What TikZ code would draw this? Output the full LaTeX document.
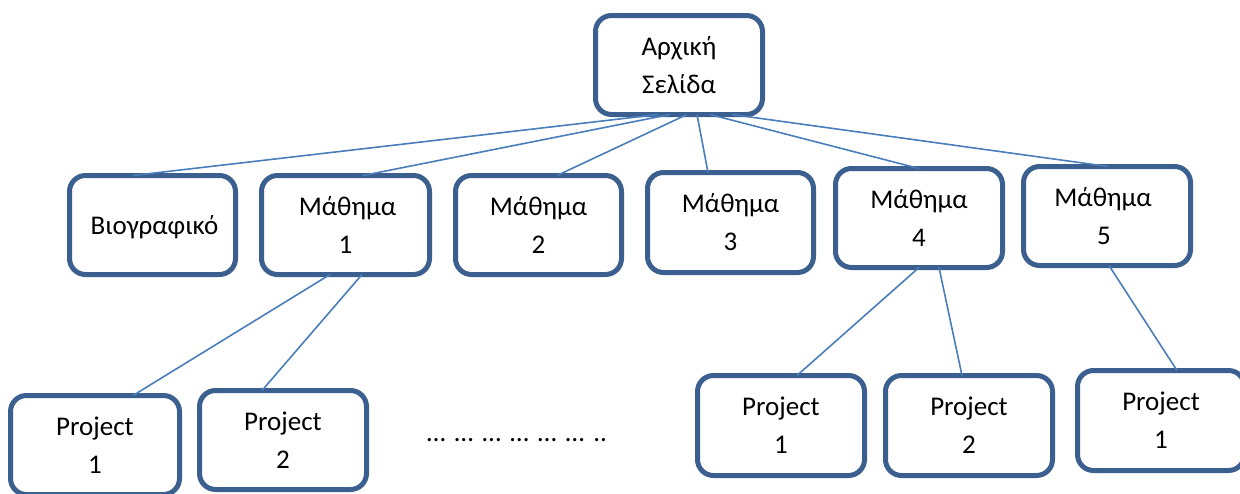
\documentclass[tikz,border=0pt]{standalone}
\usepackage{fontspec}
\setmainfont{Carlito}
\definecolor{boxblue}{HTML}{3B5F8E}
\definecolor{linkblue}{HTML}{4A7EBB}
\begin{document}
\begin{tikzpicture}[x=1pt,y=-1pt,
  box/.style={draw=boxblue, line width=5pt, rounded corners=16pt, fill=white,
    align=center, inner sep=0pt, outer sep=0pt,
    font=\fontsize{27}{38}\selectfont},
  sz/.style 2 args={minimum width=#1pt, minimum height=#2pt},
  link/.style={draw=linkblue, line width=1.6pt}]
\useasboundingbox (0,0) rectangle (1240,493);
\clip (0,0) rectangle (1240,493);

\node[box, sz={167}{99}] (top) at (679,65) {Αρχική\\Σελίδα};
\node[box, sz={166}{99}, text depth=0pt] (bio) at (152.5,225) {\hspace*{4pt}Βιογραφικό};
\node[box, sz={168}{99}] (m1) at (345.5,225) {\hspace*{4pt}Μάθημα\\1};
\node[box, sz={166}{99}] (m2) at (538.5,225) {Μάθημα\\2};
\node[box, sz={166}{100}] (m3) at (730.5,222.5) {Μάθημα\\3};
\node[box, sz={167}{99}] (m4) at (919,218) {Μάθημα\\4};
\node[box, sz={167}{99}] (m5) at (1107,216) {Μάθημα\hspace*{8pt}\\5\hspace*{6pt}};
\node[box, sz={169}{99}] (p11) at (95,445) {Project\\1};
\node[box, sz={167}{99}] (p12) at (283,440) {Project\\2};
\node[box, sz={167}{100}] (p41) at (781,425.5) {Project\\1};
\node[box, sz={167}{100}] (p42) at (969,425.5) {Project\\2};
\node[box, sz={167}{100}] (p51) at (1161,420.5) {Project\\1};
\node[anchor=base, inner sep=0pt, font=\fontsize{27}{38}\selectfont] (dots) at (517,441) {…\hspace{3pt} …\hspace{3pt} …\hspace{3pt} …\hspace{3pt} …\hspace{3pt} …\hspace{3pt} ..};

\draw[link] ([xshift=-21pt]top.south) -- ([xshift=-19.5pt]bio.north);
\draw[link] ([xshift=-9pt]top.south) -- ([xshift=17.5pt]m1.north);
\draw[link] ([xshift=8pt]top.south) -- ([xshift=18.5pt]m2.north);
\draw[link] ([xshift=18pt]top.south) -- ([xshift=-22.5pt]m3.north);
\draw[link] ([xshift=31pt]top.south) -- ([xshift=0pt]m4.north);
\draw[link] ([xshift=53pt]top.south) -- ([xshift=1pt]m5.north);

\draw[link] ([xshift=-15.5pt]m1.south) -- ([xshift=38pt]p11.north);
\draw[link] ([xshift=16.5pt]m1.south) -- ([xshift=-21pt]p12.north);
\draw[link] ([xshift=0pt]m4.south) -- ([xshift=16pt]p41.north);
\draw[link] ([xshift=20pt]m4.south) -- ([xshift=-7pt]p42.north);
\draw[link] ([xshift=2pt]m5.south) -- ([xshift=16pt]p51.north);
\end{tikzpicture}
\end{document}
